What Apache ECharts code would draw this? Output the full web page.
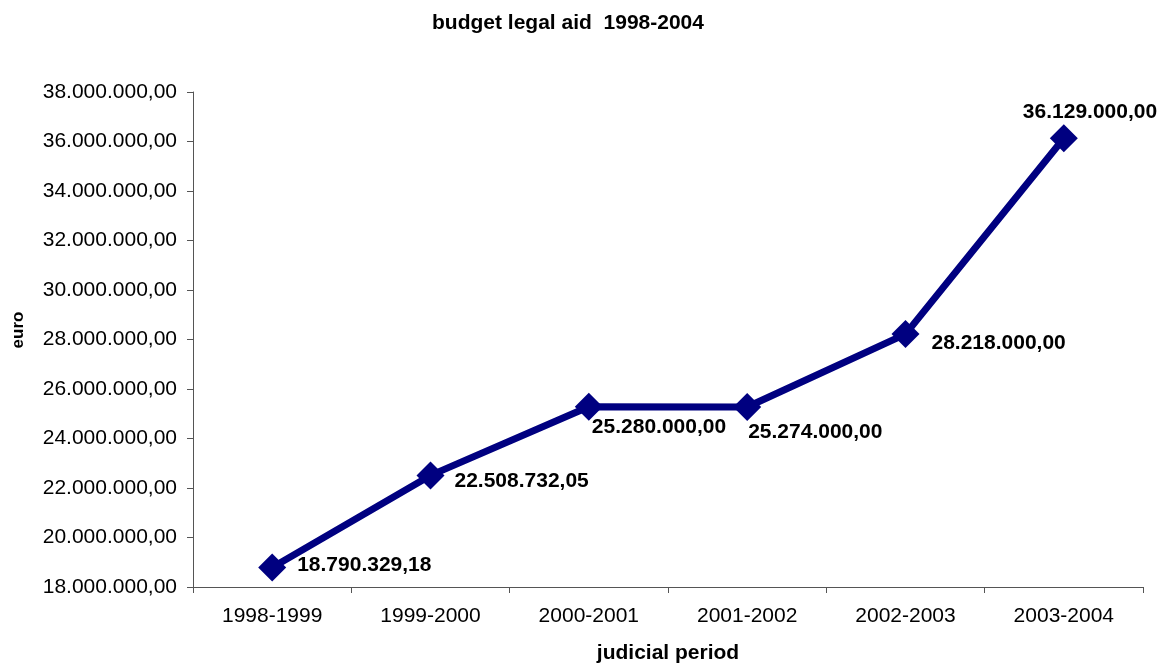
<!DOCTYPE html>
<html>
<head>
<meta charset="utf-8">
<script src="https://cdn.jsdelivr.net/npm/echarts@6/dist/echarts.min.js"></script>
<style>html,body{margin:0;padding:0;background:#fff;}#c{width:1164px;height:668px;}</style>
</head>
<body>
<div id="c"></div>
<script>
const categories = ['1998-1999', '1999-2000', '2000-2001', '2001-2002', '2002-2003', '2003-2004'];
const budget = [18790329.18, 22508732.05, 25280000.00, 25274000.00, 28218000.00, 36129000.00];
const yMin = 18000000, yMax = 38000000, yStep = 2000000;
const labelOffsets = [[11, -2], [10, 6], [-11, 20], [-13, 25], [12, 9], [-55, -26]];

function fmt(v) {
  const parts = v.toFixed(2).split('.');
  return parts[0].replace(/\B(?=(\d{3})+(?!\d))/g, '.') + ',' + parts[1];
}
const FONT = '"Liberation Sans", Arial, sans-serif';
const chart = echarts.init(document.getElementById('c'), null, {renderer: 'canvas'});
chart.setOption({
  animation: false,
  backgroundColor: '#ffffff',
  title: {
    text: 'budget legal aid  1998-2004',
    left: 427, top: 8,
    textStyle: {fontFamily: FONT, fontSize: 21, fontWeight: 'bold', color: '#000'}
  },
  grid: {left: 193, right: 21, top: 92, bottom: 81, containLabel: false, outerBoundsMode: 'none'},
  xAxis: {
    type: 'category',
    data: categories,
    boundaryGap: true,
    name: 'judicial period',
    nameLocation: 'middle',
    nameGap: 56,
    nameTextStyle: {fontFamily: FONT, fontSize: 21, fontWeight: 'bold', color: '#000'},
    axisLine: {lineStyle: {color: '#555', width: 1}},
    axisTick: {show: true, alignWithLabel: false, length: 6, lineStyle: {color: '#555'}},
    axisLabel: {fontFamily: FONT, fontSize: 21, color: '#000', margin: 19},
    splitLine: {show: false}
  },
  yAxis: {
    type: 'value',
    min: yMin, max: yMax, interval: yStep,
    name: 'euro',
    nameLocation: 'middle',
    nameGap: 166,
    nameRotate: 90,
    nameTextStyle: {fontFamily: FONT, fontSize: 17, fontWeight: 'bold', color: '#000', padding: [0, 0, 0, 19]},
    axisLine: {show: true, lineStyle: {color: '#555', width: 1}},
    axisTick: {show: true, length: 6, lineStyle: {color: '#555'}},
    axisLabel: {fontFamily: FONT, fontSize: 21, color: '#000', margin: 16, formatter: fmt},
    splitLine: {show: false}
  },
  series: [{
    type: 'line',
    data: budget.map((v, i) => ({
      value: v,
      label: {offset: labelOffsets[i]}
    })),
    symbol: 'diamond',
    symbolSize: 28,
    lineStyle: {color: '#000080', width: 7},
    itemStyle: {color: '#000080'},
    label: {
      show: true,
      position: 'right',
      distance: 0,
      align: 'left',
      verticalAlign: 'middle',
      fontFamily: FONT,
      fontSize: 21,
      fontWeight: 'bold',
      color: '#000',
      formatter: p => fmt(p.value)
    }
  }]
});
</script>
</body>
</html>
